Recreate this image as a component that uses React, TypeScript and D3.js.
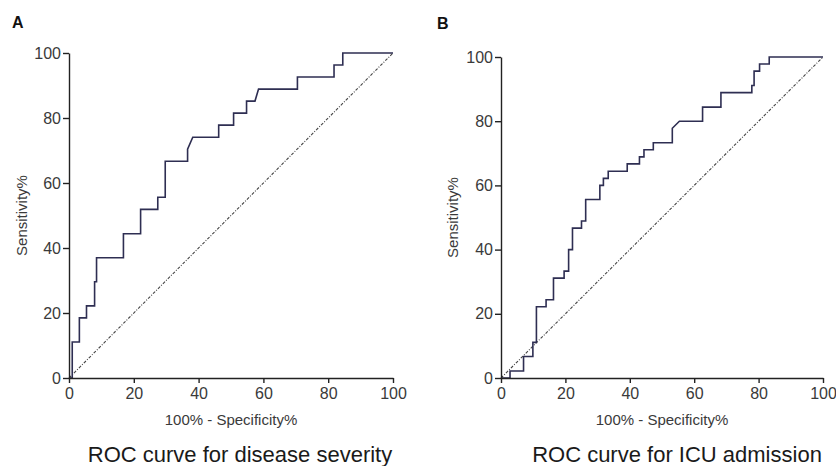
import React, { useEffect, useRef } from "react";
import * as d3 from "d3";

// Panel A: ROC curve for disease severity (100% - Specificity%, Sensitivity%)
const fprA = [0, 1, 1, 3.2, 3.2, 5.4, 5.4, 7.9, 7.9, 8.5, 8.5, 16.8, 16.8, 22.1, 22.1, 27.4, 27.4, 29.7, 29.7, 36.6, 36.6, 38.2, 46.2, 46.2, 50.8, 50.8, 54.8, 54.8, 57.4, 58.5, 70.5, 70.5, 81.8, 81.8, 84.5, 84.5, 100];
const tprA = [0, 0, 11.1, 11.1, 18.5, 18.5, 22.2, 22.2, 29.6, 29.6, 37.0, 37.0, 44.4, 44.4, 51.9, 51.9, 55.6, 55.6, 66.7, 66.7, 70.4, 74.1, 74.1, 77.8, 77.8, 81.5, 81.5, 85.2, 85.2, 88.9, 88.9, 92.6, 92.6, 96.3, 96.3, 100, 100];

// Panel B: ROC curve for ICU admission
const fprB = [0, 2.8, 2.8, 7.0, 7.0, 9.9, 9.9, 11.0, 11.0, 14.0, 14.0, 16.3, 16.3, 19.6, 19.6, 21.0, 21.0, 22.2, 22.2, 25.0, 25.0, 26.3, 26.3, 30.7, 30.7, 31.8, 31.8, 33.3, 33.3, 39.2, 39.2, 43.0, 43.0, 44.4, 44.4, 47.3, 47.3, 53.2, 53.2, 55.4, 62.6, 62.6, 68.3, 68.3, 77.9, 77.9, 78.6, 78.6, 80.3, 80.3, 83.3, 83.3, 100];
const tprB = [0, 0, 2.2, 2.2, 6.7, 6.7, 11.1, 11.1, 22.2, 22.2, 24.4, 24.4, 31.1, 31.1, 33.3, 33.3, 40.0, 40.0, 46.7, 46.7, 48.9, 48.9, 55.6, 55.6, 60.0, 60.0, 62.2, 62.2, 64.4, 64.4, 66.7, 66.7, 68.9, 68.9, 71.1, 71.1, 73.3, 73.3, 77.8, 80.0, 80.0, 84.4, 84.4, 88.9, 88.9, 91.1, 91.1, 95.6, 95.6, 97.8, 97.8, 100, 100];

const axisTicks = [0, 20, 40, 60, 80, 100];
const refLine = [0, 100];

const panelLetters = ["A", "B"];
const captions = ["ROC curve for disease severity", "ROC curve for ICU admission"];
const xTitle = "100% - Specificity%";
const yTitle = "Sensitivity%";

const FONT = "'Liberation Sans', Arial, sans-serif";

type Panel = {
  fpr: number[];
  tpr: number[];
  x0: number;
  x1: number;
  y0: number;
  y1: number;
  letterX: number;
  letterY: number;
  yTitleX: number;
  caption: string;
  captionX: number;
  letter: string;
};

const panels: Panel[] = [
  { fpr: fprA, tpr: tprA, x0: 69, x1: 393, y0: 378, y1: 53, letterX: 12, letterY: 28, yTitleX: 27, caption: captions[0], captionX: 240, letter: panelLetters[0] },
  { fpr: fprB, tpr: tprB, x0: 501, x1: 823, y0: 378, y1: 57, letterX: 437, letterY: 29, yTitleX: 458, caption: captions[1], captionX: 677, letter: panelLetters[1] },
];

export default function App() {
  const ref = useRef<SVGSVGElement | null>(null);

  useEffect(() => {
    const svg = d3.select(ref.current);
    svg.selectAll("*").remove();
    svg.append("rect").attr("width", 836).attr("height", 466).attr("fill", "#fff");

    panels.forEach((p) => {
      const x = d3.scaleLinear().domain([0, 100]).range([p.x0, p.x1]);
      const y = d3.scaleLinear().domain([0, 100]).range([p.y0, p.y1]);
      const g = svg.append("g");

      // diagonal reference
      g.append("path")
        .attr("d", d3.line<number>().x((d) => x(d)).y((d) => y(d))(refLine) as string)
        .attr("fill", "none")
        .attr("stroke", "#444")
        .attr("stroke-width", 1.1)
        .attr("stroke-dasharray", "3,1.5,1,1.5");

      // ROC curve
      const pts = p.fpr.map((f, i) => [f, p.tpr[i]] as [number, number]);
      g.append("path")
        .attr("d", d3.line<[number, number]>().x((d) => x(d[0])).y((d) => y(d[1]))(pts) as string)
        .attr("fill", "none")
        .attr("stroke", "#2e2e52")
        .attr("stroke-width", 1.6)
        .attr("stroke-linejoin", "miter");

      // axes
      const yAxis = g.append("g").attr("transform", `translate(${p.x0},0)`)
        .call(d3.axisLeft(y).tickValues(axisTicks).tickSize(6).tickPadding(2).tickSizeOuter(0));
      const xAxis = g.append("g").attr("transform", `translate(0,${p.y0})`)
        .call(d3.axisBottom(x).tickValues(axisTicks).tickSize(5).tickPadding(5).tickSizeOuter(0));
      [yAxis, xAxis].forEach((a) => {
        a.select(".domain").attr("stroke", "#222").attr("stroke-width", 1.4);
        a.selectAll(".tick line").attr("stroke", "#222").attr("stroke-width", 1.4);
        a.selectAll(".tick text").attr("fill", "#3a3a3a").style("font-family", FONT).style("font-size", "16px");
      });

      // axis titles
      g.append("text")
        .attr("x", (p.x0 + p.x1) / 2)
        .attr("y", 425)
        .attr("text-anchor", "middle")
        .style("font-family", FONT)
        .style("font-size", "15px")
        .attr("fill", "#3a3a3a")
        .text(xTitle);
      g.append("text")
        .attr("transform", `translate(${p.yTitleX},${(p.y0 + p.y1) / 2}) rotate(-90)`)
        .attr("text-anchor", "middle")
        .style("font-family", FONT)
        .style("font-size", "15px")
        .attr("fill", "#3a3a3a")
        .text(yTitle);

      // panel letter
      g.append("text")
        .attr("x", p.letterX)
        .attr("y", p.letterY)
        .style("font-family", FONT)
        .style("font-size", "16px")
        .style("font-weight", "bold")
        .attr("fill", "#111")
        .text(p.letter);

      // caption
      g.append("text")
        .attr("x", p.captionX)
        .attr("y", 462)
        .attr("text-anchor", "middle")
        .style("font-family", FONT)
        .style("font-size", "22px")
        .attr("fill", "#1a1a1a")
        .text(p.caption);
    });
  }, []);

  return (
    <svg
      ref={ref}
      width={836}
      height={466}
      style={{ position: "absolute", left: 0, top: 0, display: "block" }}
    />
  );
}
